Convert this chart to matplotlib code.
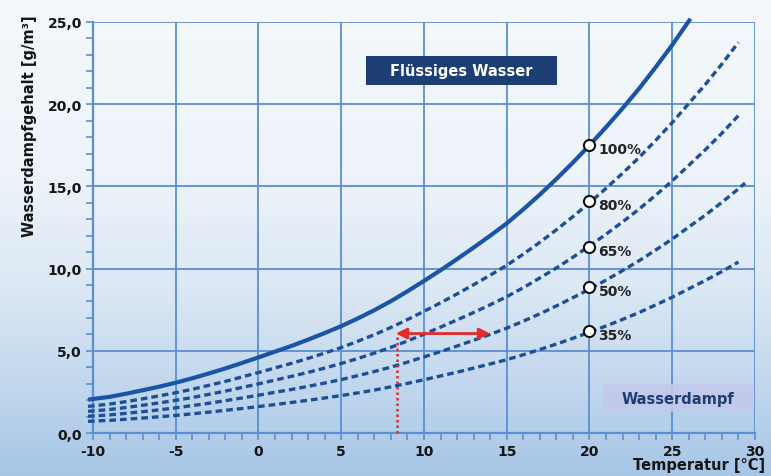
import numpy as np
import matplotlib
matplotlib.use("Agg")
import matplotlib.pyplot as plt
from matplotlib.patches import Rectangle
from matplotlib.colors import LinearSegmentedColormap

# ---- data ----
t_sat = [-10.3, -9, -8, -7, -6, -5, -4, -3, -2, -1, 0, 1, 2, 3, 4, 5, 6, 7, 8, 9,
         10, 11, 12, 13, 14, 15, 16, 17, 18, 19, 20, 21, 22, 23, 24, 25, 26, 26.1]
sat100 = [2.03, 2.20, 2.39, 2.60, 2.82, 3.06, 3.33, 3.62, 3.93, 4.26, 4.60, 4.95,
          5.30, 5.68, 6.08, 6.50, 6.97, 7.47, 8.02, 8.62, 9.25, 9.90, 10.58, 11.28,
          12.00, 12.75, 13.60, 14.50, 15.45, 16.45, 17.50, 18.60, 19.75, 20.95,
          22.25, 23.60, 25.05, 25.2]

t_rh = [-10.3, -9, -8, -7, -6, -5, -4, -3, -2, -1, 0, 1, 2, 3, 4, 5, 6, 7, 8, 9,
        10, 11, 12, 13, 14, 15, 16, 17, 18, 19, 20, 21, 22, 23, 24, 25, 26, 27, 28, 29]
rh80 = [1.62, 1.76, 1.91, 2.08, 2.26, 2.45, 2.66, 2.90, 3.14, 3.41, 3.68, 3.96,
        4.24, 4.54, 4.86, 5.20, 5.58, 5.98, 6.42, 6.90, 7.40, 7.92, 8.46, 9.02,
        9.60, 10.20, 10.88, 11.60, 12.36, 13.16, 14.00, 14.88, 15.80, 16.76,
        17.80, 18.88, 20.04, 21.20, 22.44, 23.76]
rh65 = [1.32, 1.43, 1.55, 1.69, 1.83, 1.99, 2.16, 2.35, 2.55, 2.77, 2.99, 3.22,
        3.45, 3.69, 3.95, 4.23, 4.53, 4.86, 5.21, 5.60, 6.01, 6.44, 6.88, 7.33,
        7.80, 8.29, 8.84, 9.43, 10.04, 10.69, 11.38, 12.09, 12.84, 13.62,
        14.46, 15.34, 16.28, 17.23, 18.23, 19.31]
t_rh50 = [-10.3, -9, -8, -7, -6, -5, -4, -3, -2, -1, 0, 1, 2, 3, 4, 5, 6, 7, 8, 9,
          10, 11, 12, 13, 14, 15, 16, 17, 18, 19, 20, 21, 22, 23, 24, 25, 26, 27, 28,
          29, 29.4]
rh50 = [1.02, 1.10, 1.20, 1.30, 1.41, 1.53, 1.67, 1.81, 1.97, 2.13, 2.30, 2.48,
        2.65, 2.84, 3.04, 3.25, 3.49, 3.74, 4.01, 4.31, 4.63, 4.95, 5.29, 5.64,
        6.00, 6.38, 6.80, 7.25, 7.73, 8.23, 8.75, 9.30, 9.88, 10.48, 11.13,
        11.80, 12.53, 13.25, 14.03, 14.85, 15.2]
rh35 = [0.71, 0.77, 0.84, 0.91, 0.99, 1.07, 1.17, 1.27, 1.38, 1.49, 1.61, 1.73,
        1.86, 1.99, 2.13, 2.28, 2.44, 2.61, 2.81, 3.02, 3.24, 3.47, 3.70, 3.95,
        4.20, 4.46, 4.76, 5.08, 5.41, 5.76, 6.13, 6.51, 6.91, 7.33, 7.79, 8.26,
        8.77, 9.28, 9.82, 10.40]

marker_t = 20
marker_vals = [17.5, 14.1, 11.3, 8.9, 6.2]
marker_labels = ["100%", "80%", "65%", "50%", "35%"]

arrow_y = 6.05
arrow_x = [8.3, 14.0]
dew_x = 8.35

xticks = [-10, -5, 0, 5, 10, 15, 20, 25, 30]
xticklabels = ["-10", "-5", "0", "5", "10", "15", "20", "25", "30"]
yticks = [0, 5, 10, 15, 20, 25]
yticklabels = ["0,0", "5,0", "10,0", "15,0", "20,0", "25,0"]

# ---- figure ----
fig = plt.figure(figsize=(7.71, 4.77), dpi=100)

bg = fig.add_axes([0, 0, 1, 1], zorder=-10)
bg.axis("off")
cmap = LinearSegmentedColormap.from_list(
    "bg", [(0.0, "#f4f8fc"), (0.35, "#eef4fa"), (0.6, "#dce8f4"),
           (0.8, "#c3d8ee"), (1.0, "#a6c6e6")])
grad = np.linspace(0, 1, 256).reshape(-1, 1)
bg.imshow(grad, aspect="auto", cmap=cmap, extent=[0, 1, 0, 1], origin="upper")
bg.set_xlim(0, 1)
bg.set_ylim(0, 1)

ax = fig.add_axes([0.1206, 0.0901, 0.8586, 0.8617])
ax.patch.set_alpha(0)
ax.set_xlim(-10, 30)
ax.set_ylim(0, 25)

gridc = "#5b8ed0"
ax.set_xticks(xticks)
ax.set_xticklabels(xticklabels)
ax.set_yticks(yticks)
ax.set_yticklabels(yticklabels)
ax.set_xticks(np.arange(-10, 31, 1), minor=True)
ax.set_yticks(np.arange(0, 26, 1), minor=True)
ax.grid(True, which="major", color=gridc, lw=1.3)
ax.tick_params(which="both", direction="out", color=gridc, width=1.2)
ax.tick_params(which="major", length=5, pad=3, labelsize=10)
ax.tick_params(which="minor", length=5)
for lab in ax.get_xticklabels() + ax.get_yticklabels():
    lab.set_fontweight("bold")
    lab.set_color("#151515")
for s in ["top", "right"]:
    ax.spines[s].set_visible(False)
for s in ["left", "bottom"]:
    ax.spines[s].set_color(gridc)
    ax.spines[s].set_linewidth(1.6)

# curves
ax.plot(t_sat, sat100, color="#1a55a5", lw=3.0, clip_on=False, zorder=4,
        solid_capstyle="butt")
dash_c = "#1d4f96"
for tt, yy in [(t_rh, rh80), (t_rh, rh65), (t_rh50, rh50), (t_rh, rh35)]:
    ax.plot(tt, yy, color=dash_c, lw=2.4, dashes=(2.0, 1.2), clip_on=False, zorder=4)

# markers + labels
for v, lab in zip(marker_vals, marker_labels):
    ax.plot(marker_t, v, "o", ms=8, mfc="white", mec="#111111", mew=1.5, zorder=6)
    ax.text(marker_t + 0.55, v - 0.25, lab, fontsize=10, fontweight="bold",
            color="#222222", va="center", ha="left", zorder=6)

# red arrow and dotted line
red = "#e52a2a"
ax.annotate("", xy=(arrow_x[0], arrow_y), xytext=(arrow_x[1], arrow_y),
            arrowprops=dict(arrowstyle="<|-|>", color=red, lw=2.0,
                            mutation_scale=16, shrinkA=0, shrinkB=0), zorder=7)
ax.plot([dew_x, dew_x], [0, arrow_y - 0.2], color=red, lw=1.8, ls=(0, (1, 1.2)), zorder=7)

# label boxes
ax.add_patch(Rectangle((6.5, 21.17), 11.54, 1.76, facecolor="#1c3e72",
                       edgecolor="none", zorder=5))
ax.text(12.27, 22.05, "Flüssiges Wasser", color="white", fontsize=10.5,
        fontweight="bold", ha="center", va="center", zorder=6)
ax.add_patch(Rectangle((20.82, 1.28), 9.06, 1.7, facecolor="#c4c8ea", alpha=0.85,
                       edgecolor="none", zorder=5, clip_on=False))
ax.text(25.35, 2.13, "Wasserdampf", color="#1c3e72", fontsize=10.5,
        fontweight="bold", ha="center", va="center", zorder=6)

# axis labels
fig.text(0.038, 0.735, "Wasserdampfgehalt [g/m³]", rotation=90, fontsize=10.5,
         fontweight="bold", color="#151515", ha="center", va="center")
fig.text(0.993, 0.025, "Temperatur [°C]", fontsize=10.5, fontweight="bold",
         color="#151515", ha="right", va="center")

fig.savefig("out.png", dpi=100)
